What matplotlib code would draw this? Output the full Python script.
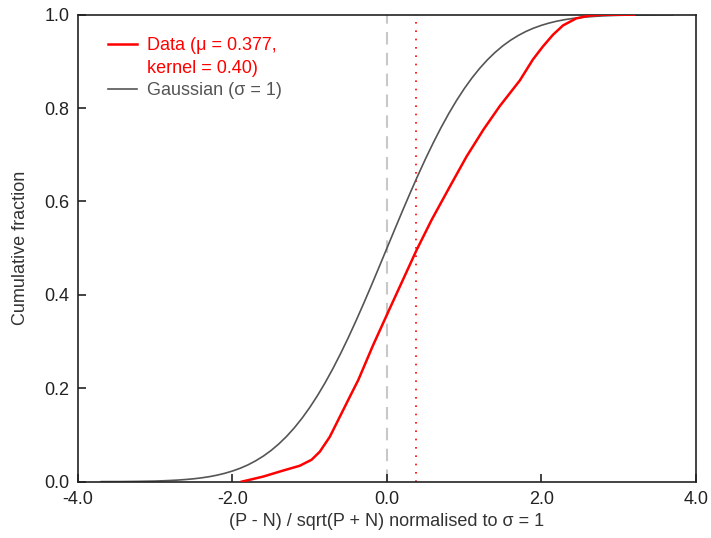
import matplotlib
matplotlib.use("Agg")
import matplotlib.pyplot as plt
from matplotlib.lines import Line2D
import numpy as np

plt.rcParams['font.family'] = ['Liberation Sans', 'DejaVu Sans']

# values
data_x = [-1.88, -1.60, -1.34, -1.13, -0.975, -0.87, -0.74, -0.61, -0.48, -0.37,
          -0.18, 0.04, 0.384, 0.58, 0.815, 1.03, 1.25, 1.46, 1.72,
          1.89, 2.02, 2.15, 2.28, 2.45, 2.62, 2.80, 3.20]
data_y = [0.0, 0.011, 0.024, 0.034, 0.047, 0.064, 0.096, 0.139, 0.182, 0.218,
          0.292, 0.372, 0.496, 0.561, 0.632, 0.696, 0.754, 0.804, 0.859,
          0.904, 0.932, 0.957, 0.977, 0.992, 0.998, 1.0, 1.0]

gauss_x = np.round(np.arange(-3.7, 3.75, 0.1), 1)
gauss_y = [0.0001, 0.0002, 0.0002, 0.0003, 0.0005, 0.0007, 0.0010, 0.0013, 0.0019, 0.0026,
           0.0035, 0.0047, 0.0062, 0.0082, 0.0107, 0.0139, 0.0179, 0.0228, 0.0287, 0.0359,
           0.0446, 0.0548, 0.0668, 0.0808, 0.0968, 0.1151, 0.1357, 0.1587, 0.1841, 0.2119,
           0.2420, 0.2743, 0.3085, 0.3446, 0.3821, 0.4207, 0.4602, 0.5000, 0.5398, 0.5793,
           0.6179, 0.6554, 0.6915, 0.7257, 0.7580, 0.7881, 0.8159, 0.8413, 0.8643, 0.8849,
           0.9032, 0.9192, 0.9332, 0.9452, 0.9554, 0.9641, 0.9713, 0.9772, 0.9821, 0.9861,
           0.9893, 0.9918, 0.9938, 0.9953, 0.9965, 0.9974, 0.9981, 0.9987, 0.9990, 0.9993,
           0.9995, 0.9997, 0.9998, 0.9998, 0.9999]

mu = 0.377
kernel = 0.40
xticks = [-4.0, -2.0, 0.0, 2.0, 4.0]
yticks = [0.0, 0.2, 0.4, 0.6, 0.8, 1.0]

fig = plt.figure(figsize=(7.11, 5.38), dpi=100)
ax = fig.add_axes([0.1097, 0.1047, 0.869, 0.868])

ax.axvline(0.0, color='#c8c8c8', lw=1.5, ls=(0, (6, 4)), zorder=1)
ax.axvline(mu, color='red', lw=1.2, ls=(0, (1, 4)), zorder=1)
ax.plot(data_x, data_y, color='#ff0000', lw=1.8, zorder=3)
ax.plot(gauss_x, gauss_y, color='#555555', lw=1.2, zorder=2)

ax.set_xlim(-4, 4)
ax.set_ylim(0, 1)
ax.set_xticks(xticks)
ax.set_xticklabels(['%.1f' % t for t in xticks])
ax.set_yticks(yticks)
ax.set_yticklabels(['%.1f' % t for t in yticks])
ax.tick_params(direction='in', length=6, width=1.2, labelsize=13, colors='#222222')
ax.tick_params(axis='x', pad=7)
ax.tick_params(axis='y', pad=6)
for s in ax.spines.values():
    s.set_linewidth(1.2)
    s.set_color('#222222')

ax.set_xlabel('(P - N) / sqrt(P + N) normalised to \u03c3 = 1', fontsize=13, color='#333333')
ax.set_ylabel('Cumulative fraction', fontsize=13, color='#333333')
ax.xaxis.set_label_coords(0.5, -0.067)
ax.yaxis.set_label_coords(-0.079, 0.5)

handles = [Line2D([], [], color='#ff0000', lw=1.8),
           Line2D([], [], color='none', lw=1.8),
           Line2D([], [], color='#555555', lw=1.2)]
labels = ['Data (\u03bc = %.3f,' % mu, 'kernel = %.2f)' % kernel, 'Gaussian (\u03c3 = 1)']
leg = ax.legend(handles, labels, loc='upper left', frameon=False, fontsize=13,
                handlelength=1.6, handletextpad=0.55, labelspacing=0.3,
                bbox_to_anchor=(0.022, 0.986))
for t, c in zip(leg.get_texts(), ['#ff0000', '#ff0000', '#555555']):
    t.set_color(c)

fig.savefig('out.png', dpi=100)
